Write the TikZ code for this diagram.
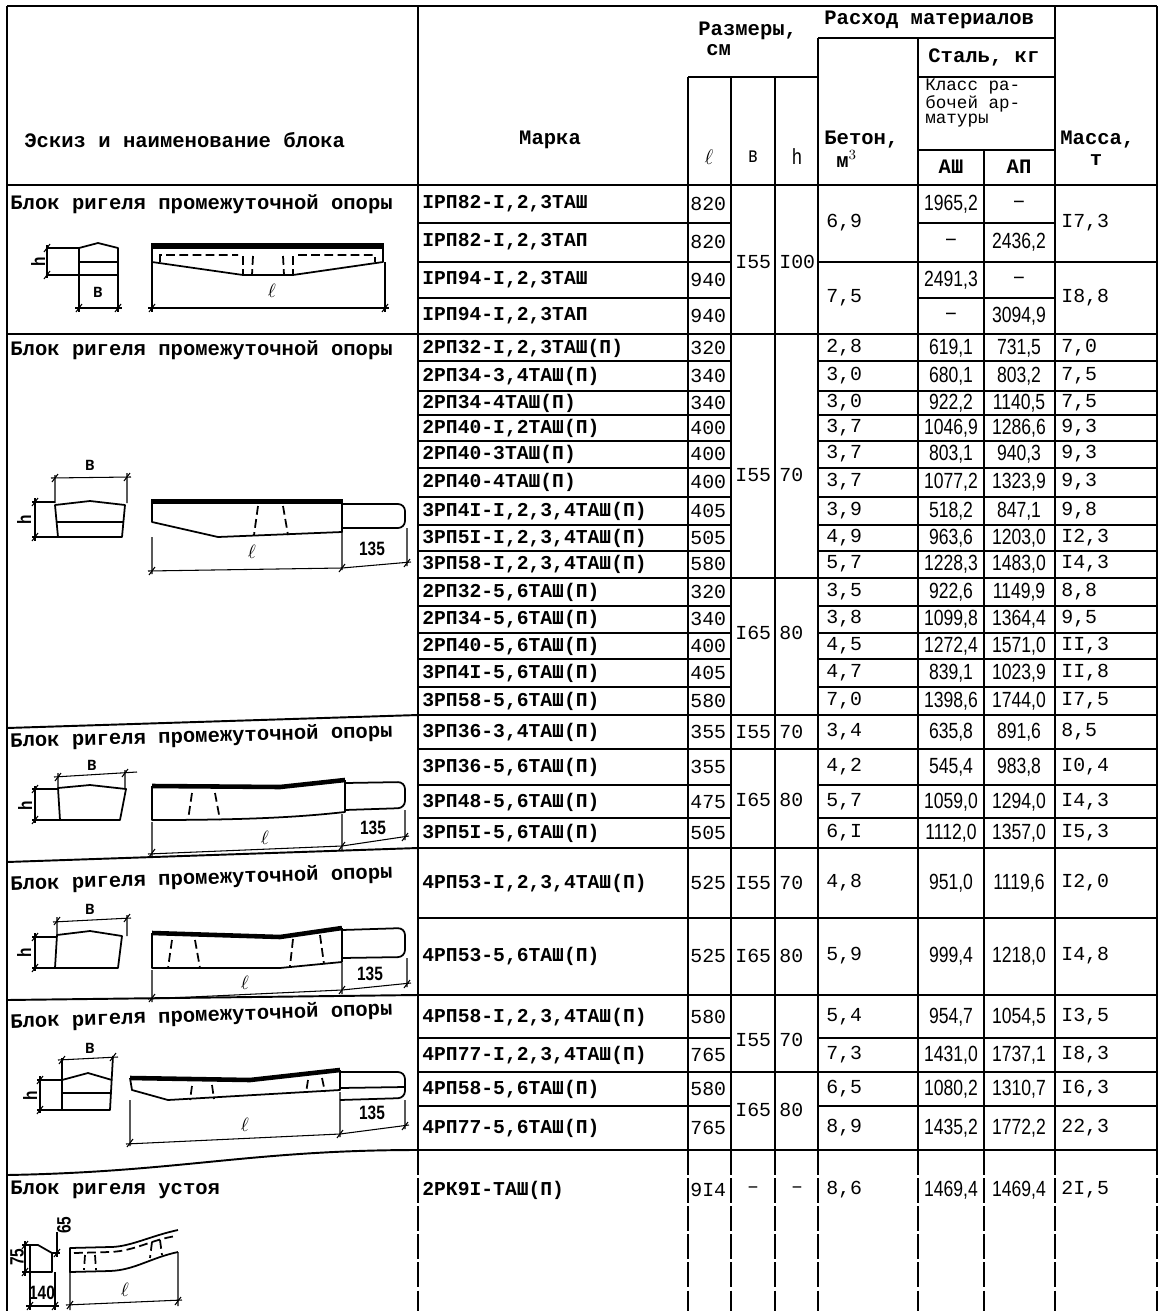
\documentclass[tikz,border=0pt]{standalone}
\usepackage{fontspec}
\setmainfont{Liberation Mono}
\newfontfamily\handfont[FakeStretch=0.8]{Liberation Sans}
\usetikzlibrary{positioning}

% засечка размерной линии
\newcommand{\tickmk}[1]{\draw[dim] #1 ++(-3,4) -- ++(6,-8);}

\begin{document}
\begin{tikzpicture}[
	x=0.02cm, y=-0.02cm,
	tab/.style={line width=1.1pt},
	rowln/.style={line width=0.8pt},
	brk/.style={line width=1.1pt, dash pattern=on 14pt off 2pt},
	hdr/.style={font=\bfseries\fontsize{11.7}{13}\selectfont, inner sep=0pt},
	ttl/.style={font=\bfseries\fontsize{11.7}{13}\selectfont, inner sep=0pt, anchor=west},
	sml/.style={font=\fontsize{10}{11}\selectfont, inner sep=0pt, anchor=west},
	mk/.style={font=\bfseries\fontsize{11.2}{12}\selectfont, inner sep=0pt, anchor=west},
	num/.style={font=\fontsize{11.3}{12}\selectfont, inner sep=0pt, anchor=west},
	hnd/.style={font=\handfont\fontsize{12.5}{13}\selectfont, inner sep=0pt},
	lbl/.style={font=\handfont\bfseries\fontsize{11}{12}\selectfont, inner sep=0pt},
	body/.style={line width=1pt, line join=round},
	bar/.style={line width=2.6pt},
	dsh/.style={line width=1pt, dash pattern=on 5pt off 2.5pt},
	dim/.style={line width=0.6pt}
	]
	\useasboundingbox (0,0) rectangle (1165,1311);
	
	% рамка и шапка
	\draw[tab] (7,6) -- (1157,6);
	\draw[tab] (7,6) -- (7,1311);
	\foreach \x/\yt in {418/6, 688/77, 731/77, 775/77, 818/38, 918/38, 984/150, 1055/6, 1157/6} {
		\draw[tab] (\x,\yt) -- (\x,1150);
		\draw[brk] (\x,1150) -- (\x,1311);
	}
	\draw[tab] (818,38) -- (1055,38);
	\draw[tab] (688,77) -- (818,77) (918,77) -- (1055,77);
	\draw[tab] (918,150) -- (1055,150);
	
	\node[ttl] (hsk) at (24,140) {Эскиз и наименование блока};
	\node[hdr] (hmk) at (550,140) {Марка};
	\node[ttl] (hsz1) at (698,31) {Размеры,};
	\node[ttl] (hsz2) at (706,50) {см};
	\node[ttl] (hrs) at (824,20) {Расход материалов};
	\node[ttl] (hst) at (928,57) {Сталь, кг};
	\node[sml] (hkl1) at (925,87) {Класс ра-};
	\node[sml] (hkl2) at (925,104) {бочей ар-};
	\node[sml] (hkl3) at (925,121) {матуры};
	\node[ttl] (hbt1) at (824,140) {Бетон,};
	\node[ttl] (hbt2) at (836,159) {м$^3$};
	\node[hdr] (ha3) at (951,167) {АШ};
	\node[hdr] (ha2) at (1019,167) {АП};
	\node[ttl] (hms1) at (1060,140) {Масса,};
	\node[hdr] (hms2) at (1096,160) {т};
	\node[hnd] (hl) at (709,157) {$\ell$};
	\node[hnd] (hb) at (753,157) {в};
	\node[hnd] (hh) at (797,157) {h};
	
	% линии строк
	\draw[tab] (7,185) -- (1157,185) (7,334) -- (1157,334);
	\foreach \y in {578,715,749,848,918,995,1072,1150}
		\draw[tab] (418,\y) -- (1157,\y);
	\foreach \y in {262,361,391,415,441,468,497,525,551,606,633,659,687,785,818,1038,1106} {
		\draw[rowln] (418,\y) -- (731,\y);
		\draw[rowln] (818,\y) -- (1157,\y);
	}
	\foreach \y in {223,298} {
		\draw[rowln] (418,\y) -- (731,\y);
		\draw[rowln] (918,\y) -- (1055,\y);
	}
	% разделители эскизов
	\draw[tab] (7,728) -- (418,715);
	\draw[tab] (7,862) -- (418,848);
	\draw[tab] (7,1000) -- (418,995);
	\draw[tab] (7,1175) .. controls (180,1172) and (250,1150) .. (418,1150);
	
	% блок 1
	\foreach \y/\mk/\len/\sa/\sb [count=\i] in {
		204/{IРП82-I,2,3ТАШ}/820/{1965,2}/–,
		242/{IРП82-I,2,3ТАП}/820/–/{2436,2},
		280/{IРП94-I,2,3ТАШ}/940/{2491,3}/–,
		316/{IРП94-I,2,3ТАП}/940/–/{3094,9}} {
		\node[mk] (mka\i) at (422,\y) {\mk};
		\node[num] (lna\i) at (690,\y) {\len};
		\node[hnd] (saa\i) at (951,\y) {\sa};
		\node[hnd] (sba\i) at (1019,\y) {\sb};
	}
	\node[num] (bta1) at (826,223) {6,9};
	\node[num] (bta2) at (826,298) {7,5};
	\node[num] (msa1) at (1061,223) {I7,3};
	\node[num] (msa2) at (1061,298) {I8,8};
	
	% остальные строки
	\foreach \y/\mk/\len/\bet/\sa/\sb/\ms [count=\i] in {
		348/{2РП32-I,2,3ТАШ(П)}/320/{2,8}/{619,1}/{731,5}/{7,0},
		376/{2РП34-3,4ТАШ(П)}/340/{3,0}/{680,1}/{803,2}/{7,5},
		403/{2РП34-4ТАШ(П)}/340/{3,0}/{922,2}/{1140,5}/{7,5},
		428/{2РП40-I,2ТАШ(П)}/400/{3,7}/{1046,9}/{1286,6}/{9,3},
		454/{2РП40-3ТАШ(П)}/400/{3,7}/{803,1}/{940,3}/{9,3},
		482/{2РП40-4ТАШ(П)}/400/{3,7}/{1077,2}/{1323,9}/{9,3},
		511/{3РП4I-I,2,3,4ТАШ(П)}/405/{3,9}/{518,2}/{847,1}/{9,8},
		538/{3РП5I-I,2,3,4ТАШ(П)}/505/{4,9}/{963,6}/{1203,0}/{I2,3},
		564/{3РП58-I,2,3,4ТАШ(П)}/580/{5,7}/{1228,3}/{1483,0}/{I4,3},
		592/{2РП32-5,6ТАШ(П)}/320/{3,5}/{922,6}/{1149,9}/{8,8},
		619/{2РП34-5,6ТАШ(П)}/340/{3,8}/{1099,8}/{1364,4}/{9,5},
		646/{2РП40-5,6ТАШ(П)}/400/{4,5}/{1272,4}/{1571,0}/{II,3},
		673/{3РП4I-5,6ТАШ(П)}/405/{4,7}/{839,1}/{1023,9}/{II,8},
		701/{3РП58-5,6ТАШ(П)}/580/{7,0}/{1398,6}/{1744,0}/{I7,5},
		732/{3РП36-3,4ТАШ(П)}/355/{3,4}/{635,8}/{891,6}/{8,5},
		767/{3РП36-5,6ТАШ(П)}/355/{4,2}/{545,4}/{983,8}/{I0,4},
		802/{3РП48-5,6ТАШ(П)}/475/{5,7}/{1059,0}/{1294,0}/{I4,3},
		833/{3РП5I-5,6ТАШ(П)}/505/{6,I}/{1112,0}/{1357,0}/{I5,3},
		883/{4РП53-I,2,3,4ТАШ(П)}/525/{4,8}/{951,0}/{1119,6}/{I2,0},
		956/{4РП53-5,6ТАШ(П)}/525/{5,9}/{999,4}/{1218,0}/{I4,8},
		1017/{4РП58-I,2,3,4ТАШ(П)}/580/{5,4}/{954,7}/{1054,5}/{I3,5},
		1055/{4РП77-I,2,3,4ТАШ(П)}/765/{7,3}/{1431,0}/{1737,1}/{I8,3},
		1089/{4РП58-5,6ТАШ(П)}/580/{6,5}/{1080,2}/{1310,7}/{I6,3},
		1128/{4РП77-5,6ТАШ(П)}/765/{8,9}/{1435,2}/{1772,2}/{22,3},
		1190/{2РК9I-ТАШ(П)}/9I4/{8,6}/{1469,4}/{1469,4}/{2I,5}} {
		\node[mk] (mk\i) at (422,\y) {\mk};
		\node[num] (ln\i) at (690,\y) {\len};
		\node[num] (bt\i) at (826,\y) {\bet};
		\node[hnd] (sa\i) at (951,\y) {\sa};
		\node[hnd] (sb\i) at (1019,\y) {\sb};
		\node[num] (ms\i) at (1061,\y) {\ms};
	}
	
	% размеры b и h
	\foreach \y/\bw/\hw [count=\i] in {262/I55/I00, 475/I55/70, 633/I65/80, 732/I55/70,
		800/I65/80, 883/I55/70, 956/I65/80, 1040/I55/70, 1110/I65/80} {
		\node[num] (bw\i) at (735,\y) {\bw};
		\node[num] (hw\i) at (779,\y) {\hw};
	}
	\node[num, anchor=center] (bw10) at (753,1190) {–};
	\node[num, anchor=center] (hw10) at (797,1190) {–};
	
	% названия блоков
	\node[ttl] (t1) at (10,204) {Блок ригеля промежуточной опоры};
	\node[ttl] (t2) at (10,350) {Блок ригеля промежуточной опоры};
	\node[ttl, rotate=1.5] (t3) at (10,742) {Блок ригеля промежуточной опоры};
	\node[ttl, rotate=1.8] (t4) at (10,885) {Блок ригеля промежуточной опоры};
	\node[ttl, rotate=2] (t5) at (10,1023) {Блок ригеля промежуточной опоры};
	\node[ttl] (t6) at (10,1190) {Блок ригеля устоя};
	
	% эскиз 1
	\draw[dim] (47,248) -- (79,248) (47,275) -- (79,275) (47,245) -- (47,278);
	\tickmk{(47,248)} \tickmk{(47,275)}
	\node[lbl, rotate=90] (s1h) at (38,262) {h};
	\draw[body] (79,248) -- (98,243) -- (118,248) -- (118,275) -- (79,275) -- cycle;
	\draw[body] (79,262) -- (118,262);
	\draw[dim] (79,275) -- (79,312) (118,275) -- (118,312) (75,308) -- (122,308);
	\tickmk{(79,308)} \tickmk{(118,308)}
	\node[lbl] (s1b) at (98,292) {в};
	\fill (152,243) rectangle (383,249);
	\draw[body] (152,243) -- (152,262) -- (243,275) -- (293,275) -- (383,262) -- (383,243);
	\draw[dsh] (160,262) -- (160,255) -- (238,255) (243,256) -- (243,275) (253,256) -- (252,275)
		(283,256) -- (284,275) (293,256) -- (293,275) (298,255) -- (375,255) -- (375,262);
	\draw[dim] (152,262) -- (152,312) (385,262) -- (385,312) (148,308) -- (389,308);
	\tickmk{(152,308)} \tickmk{(385,308)}
	\node[lbl] (s1l) at (272,291) {$\ell$};
	
	% эскиз 2
	\node[lbl] (s2b) at (90,465) {в};
	\draw[dim] (55,475) -- (55,503) (127,473) -- (127,503) (51,478) -- (131,477);
	\tickmk{(55,478)} \tickmk{(127,477)}
	\draw[body] (55,505) -- (90,501) -- (125,505) -- (122,537) -- (58,537) -- cycle;
	\draw[body] (56,522) -- (124,522);
	\draw[dim] (32,502) -- (55,502) (32,537) -- (58,537) (35,498) -- (35,541);
	\tickmk{(35,502)} \tickmk{(35,537)}
	\node[lbl, rotate=90] (s2h) at (24,520) {h};
	\fill (152,499) rectangle (342,504);
	\draw[body] (152,499) -- (152,522) -- (218,537) -- (342,532) -- (342,499);
	\draw[body, rounded corners=4pt] (342,504) -- (405,504) -- (405,528) -- (342,528);
	\draw[dsh] (258,506) -- (254,535) (283,506) -- (288,535);
	\draw[dim] (152,537) -- (152,574) (342,532) -- (342,570) (407,528) -- (407,566)
		(148,571) -- (342,568) -- (411,562);
	\tickmk{(152,571)} \tickmk{(342,568)} \tickmk{(407,563)}
	\node[lbl] (s2l) at (252,552) {$\ell$};
	\node[lbl] (s2n) at (372,549) {135};
	
	% эскиз 3
	\node[lbl] (s3b) at (92,765) {в};
	\draw[dim] (58,773) -- (58,788) (125,770) -- (125,789) (54,777) -- (137,772);
	\tickmk{(58,777)} \tickmk{(125,773)}
	\draw[body] (58,788) -- (90,785) -- (126,789) -- (120,820) -- (60,820) -- cycle;
	\draw[dim] (32,789) -- (58,789) (32,820) -- (60,820) (35,786) -- (35,823);
	\tickmk{(35,789)} \tickmk{(35,820)}
	\node[lbl, rotate=90] (s3h) at (25,806) {h};
	\draw[bar] (152,786) -- (280,787) -- (345,780);
	\draw[body] (152,786) -- (152,820) .. controls (250,820) and (300,817) .. (345,812) -- (345,780);
	\draw[body, rounded corners=4pt] (345,783) -- (405,782) -- (405,808) -- (345,810);
	\draw[dsh] (192,793) -- (188,820) (215,793) -- (220,820);
	\draw[dim] (152,822) -- (152,857) (342,814) -- (342,850) (405,810) -- (405,840)
		(148,854) -- (342,846) -- (409,836);
	\tickmk{(152,853)} \tickmk{(342,846)} \tickmk{(405,837)}
	\node[lbl] (s3l) at (265,838) {$\ell$};
	\node[lbl] (s3n) at (373,828) {135};
	
	% эскиз 4
	\node[lbl] (s4b) at (90,909) {в};
	\draw[dim] (57,917) -- (57,935) (127,915) -- (127,936) (53,922) -- (131,918);
	\tickmk{(57,921)} \tickmk{(127,918)}
	\draw[body] (57,935) -- (90,931) -- (122,936) -- (118,968) -- (55,968) -- cycle;
	\draw[dim] (32,937) -- (57,937) (32,968) -- (55,968) (35,933) -- (35,971);
	\tickmk{(35,937)} \tickmk{(35,968)}
	\node[lbl, rotate=90] (s4h) at (24,953) {h};
	\draw[bar] (152,933) -- (280,937) -- (342,928);
	\draw[body] (152,933) -- (152,968) -- (280,968) -- (342,962) -- (342,928);
	\draw[body, rounded corners=4pt] (342,930) -- (405,928) -- (405,957) -- (342,958);
	\draw[dsh] (172,940) -- (168,968) (195,940) -- (200,968) (293,939) -- (290,966) (320,935) -- (324,964);
	\draw[dim] (152,970) -- (152,1002) (342,963) -- (342,994) (407,958) -- (407,987)
		(148,999) -- (342,990) -- (411,983);
	\tickmk{(152,998)} \tickmk{(342,990)} \tickmk{(407,984)}
	\node[lbl] (s4l) at (245,983) {$\ell$};
	\node[lbl] (s4n) at (370,974) {135};
	
	% эскиз 5
	\node[lbl] (s5b) at (90,1048) {в};
	\draw[dim] (58,1060) -- (118,1057);
	\tickmk{(62,1060)} \tickmk{(113,1057)}
	\draw[body] (62,1058) -- (62,1110) -- (110,1110) -- (113,1056);
	\draw[body] (62,1080) -- (88,1073) -- (112,1080) (62,1093) -- (111,1093);
	\draw[dim] (37,1080) -- (62,1080) (37,1110) -- (62,1110) (40,1076) -- (40,1113);
	\tickmk{(40,1080)} \tickmk{(40,1110)}
	\node[lbl, rotate=90] (s5h) at (30,1096) {h};
	\draw[bar] (130,1078) -- (250,1080) -- (340,1070);
	\draw[body] (130,1078) -- (132,1090) -- (168,1100) -- (340,1090) -- (340,1070);
	\draw[body, rounded corners=4pt] (340,1072) -- (405,1072) -- (405,1098) -- (340,1100);
	\draw[body] (340,1088) -- (405,1087);
	\draw[dsh] (192,1086) -- (190,1100) (212,1085) -- (214,1099) (308,1080) -- (306,1093) (322,1078) -- (325,1092);
	\draw[dim] (130,1100) -- (130,1146) (340,1092) -- (340,1137) (405,1100) -- (405,1129)
		(126,1144) -- (340,1134) -- (409,1125);
	\tickmk{(130,1143)} \tickmk{(340,1134)} \tickmk{(405,1126)}
	\node[lbl] (s5l) at (245,1125) {$\ell$};
	\node[lbl] (s5n) at (372,1113) {135};
	
	% эскиз 6
	\node[lbl, rotate=90] (s6a) at (17,1257) {75};
	\draw[dim] (22,1245) -- (30,1245) (22,1272) -- (30,1272) (25,1241) -- (25,1276);
	\tickmk{(25,1245)} \tickmk{(25,1272)}
	\draw[body] (30,1245) -- (38,1245) -- (52,1253) -- (52,1272) -- (30,1272) -- cycle;
	\draw[dim] (52,1253) -- (60,1253) (57,1232) -- (57,1257);
	\tickmk{(57,1253)}
	\node[lbl, rotate=90] (s6b) at (64,1225) {65};
	\draw[dim] (30,1272) -- (30,1310) (55,1272) -- (55,1310) (26,1306) -- (59,1306);
	\tickmk{(30,1306)} \tickmk{(55,1306)}
	\node[lbl] (s6c) at (42,1293) {140};
	\draw[body] (178,1230) .. controls (150,1236) and (130,1247) .. (110,1247) -- (70,1248)
		-- (70,1272) -- (110,1271) .. controls (135,1270) and (150,1258) .. (178,1252);
	\draw[dsh] (74,1253) -- (110,1252) .. controls (135,1251) and (150,1240) .. (176,1236);
	\draw[dsh] (85,1255) -- (84,1270) (95,1255) -- (96,1270) (152,1242) -- (150,1258) (160,1240) -- (162,1255);
	\draw[dim] (70,1272) -- (70,1310) (178,1252) -- (178,1306) (66,1305) -- (182,1300);
	\tickmk{(70,1305)} \tickmk{(178,1301)}
	\node[lbl] (s6l) at (125,1290) {$\ell$};
	
\end{tikzpicture}
\end{document}
